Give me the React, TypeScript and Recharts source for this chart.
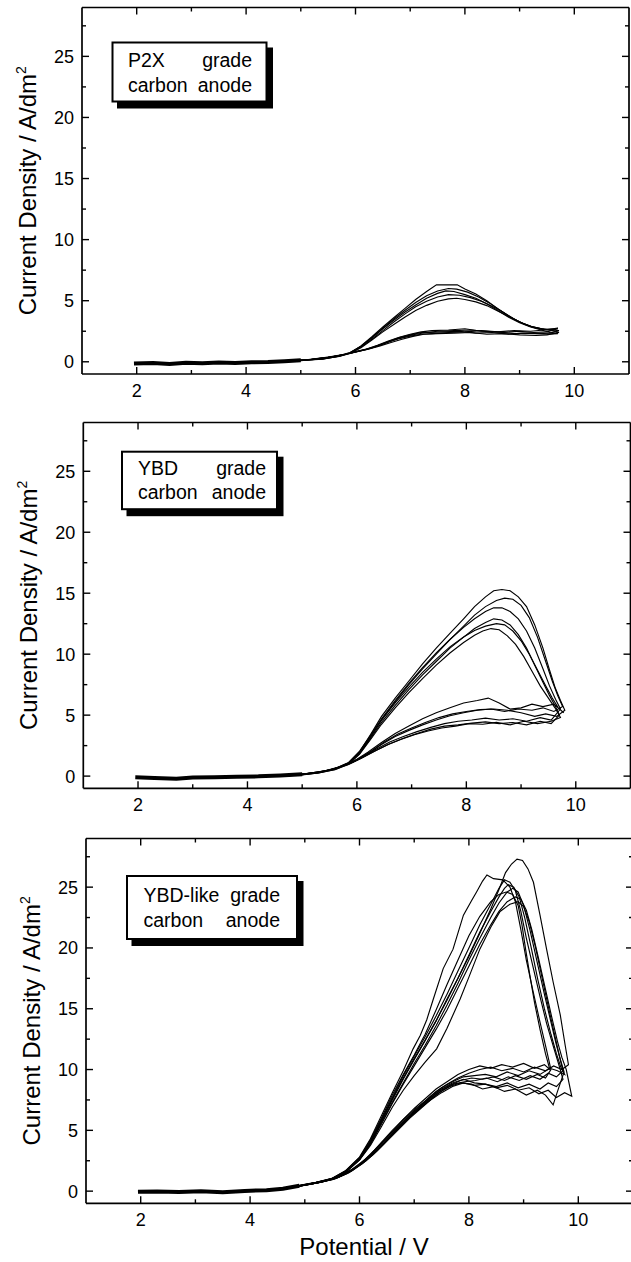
import { Line, LineChart, XAxis, YAxis } from "recharts";

type Pt = [number, number];

const FONT = '"Liberation Sans", Arial, Helvetica, sans-serif';
const INK = "#000";

const xTicks = [2, 3, 4, 5, 6, 7, 8, 9, 10];
const yTicks = [0, 2.5, 5, 7.5, 10, 12.5, 15, 17.5, 20, 22.5, 25, 27.5];

// P2X grade carbon anode
const p2xBaseline: Pt[] = [[1.95, -0.15], [2.3, -0.1], [2.6, -0.18], [2.9, -0.08], [3.2, -0.12], [3.5, -0.05], [3.8, -0.1], [4.1, -0.04], [4.4, -0.02], [4.7, 0.05], [5.0, 0.12]];
const p2xScan1: Pt[] = [[4.6, 0.02], [5.0, 0.12], [5.4, 0.22], [5.7, 0.45], [5.9, 0.72], [6.1, 1.3], [6.3, 2.05], [6.5, 2.85], [6.7, 3.6], [6.9, 4.35], [7.1, 5.1], [7.3, 5.75], [7.48, 6.3], [7.7, 6.3], [7.86, 6.3], [8.0, 5.95], [8.2, 5.55], [8.4, 5.0], [8.6, 4.35], [8.8, 3.75], [9.0, 3.25], [9.2, 2.9], [9.4, 2.7], [9.6, 2.6], [9.72, 2.55], [9.55, 2.35], [9.3, 2.3], [9.05, 2.35], [8.8, 2.25], [8.5, 2.4], [8.2, 2.35], [7.9, 2.5], [7.6, 2.45], [7.35, 2.4], [7.2, 2.4], [7.0, 2.2], [6.8, 1.98], [6.6, 1.65], [6.4, 1.3], [6.2, 1.0], [6.0, 0.8], [5.8, 0.6], [5.5, 0.35], [5.1, 0.15], [4.6, 0.0]];
const p2xScan2: Pt[] = [[4.6, 0.05], [5.0, 0.1], [5.4, 0.25], [5.7, 0.47], [5.9, 0.74], [6.1, 1.28], [6.3, 2.0], [6.5, 2.75], [6.7, 3.5], [6.9, 4.2], [7.1, 4.85], [7.3, 5.4], [7.5, 5.8], [7.7, 6.0], [7.85, 5.95], [8.05, 5.7], [8.25, 5.3], [8.45, 4.8], [8.65, 4.2], [8.85, 3.6], [9.05, 3.15], [9.25, 2.85], [9.45, 2.65], [9.7, 2.7], [9.5, 2.45], [9.25, 2.4], [9.0, 2.5], [8.7, 2.4], [8.4, 2.5], [8.1, 2.6], [7.8, 2.55], [7.5, 2.5], [7.3, 2.4], [7.1, 2.25], [6.9, 2.05], [6.7, 1.78], [6.5, 1.48], [6.3, 1.15], [6.1, 0.92], [5.9, 0.7], [5.6, 0.42], [5.2, 0.2], [4.6, 0.04]];
const p2xScan3: Pt[] = [[4.6, 0.0], [5.0, 0.14], [5.4, 0.28], [5.7, 0.5], [5.9, 0.75], [6.1, 1.25], [6.3, 1.95], [6.5, 2.7], [6.7, 3.4], [6.9, 4.05], [7.1, 4.65], [7.3, 5.2], [7.5, 5.6], [7.65, 5.8], [7.8, 5.75], [8.0, 5.5], [8.2, 5.2], [8.4, 4.75], [8.6, 4.2], [8.8, 3.65], [9.0, 3.2], [9.2, 2.85], [9.4, 2.6], [9.55, 2.4], [9.7, 2.3], [9.5, 2.25], [9.2, 2.35], [8.9, 2.3], [8.6, 2.45], [8.3, 2.5], [8.0, 2.7], [7.7, 2.6], [7.4, 2.55], [7.2, 2.45], [7.0, 2.25], [6.8, 2.0], [6.6, 1.7], [6.4, 1.35], [6.2, 1.05], [6.0, 0.84], [5.8, 0.62], [5.5, 0.38], [5.1, 0.16], [4.6, 0.02]];
const p2xScan4: Pt[] = [[4.6, 0.03], [5.0, 0.13], [5.4, 0.24], [5.7, 0.46], [5.9, 0.7], [6.1, 1.2], [6.3, 1.85], [6.5, 2.55], [6.7, 3.25], [6.9, 3.9], [7.1, 4.5], [7.3, 4.95], [7.5, 5.3], [7.7, 5.5], [7.9, 5.45], [8.1, 5.25], [8.3, 4.95], [8.5, 4.55], [8.7, 4.05], [8.9, 3.5], [9.1, 3.05], [9.3, 2.75], [9.5, 2.6], [9.7, 2.75], [9.45, 2.6], [9.2, 2.5], [8.9, 2.55], [8.6, 2.45], [8.3, 2.55], [8.0, 2.45], [7.7, 2.4], [7.4, 2.3], [7.2, 2.25], [7.0, 2.1], [6.8, 1.9], [6.6, 1.6], [6.4, 1.28], [6.2, 1.02], [6.0, 0.8], [5.8, 0.6], [5.5, 0.36], [5.1, 0.14], [4.6, 0.01]];
const p2xScan5: Pt[] = [[4.6, 0.01], [5.0, 0.11], [5.4, 0.23], [5.7, 0.44], [5.9, 0.68], [6.1, 1.15], [6.3, 1.78], [6.5, 2.45], [6.7, 3.05], [6.9, 3.65], [7.1, 4.2], [7.3, 4.62], [7.5, 4.95], [7.7, 5.15], [7.85, 5.2], [8.0, 5.1], [8.2, 4.9], [8.4, 4.6], [8.6, 4.15], [8.8, 3.7], [9.0, 3.25], [9.2, 2.9], [9.4, 2.7], [9.6, 2.55], [9.72, 2.4], [9.5, 2.2], [9.3, 2.15], [9.0, 2.2], [8.7, 2.3], [8.4, 2.25], [8.1, 2.4], [7.8, 2.35], [7.5, 2.3], [7.25, 2.25], [7.05, 2.08], [6.85, 1.85], [6.65, 1.58], [6.45, 1.3], [6.25, 1.06], [6.05, 0.85], [5.85, 0.63], [5.55, 0.38], [5.15, 0.16], [4.6, 0.03]];

// YBD grade carbon anode
const ybdBaseline: Pt[] = [[1.95, -0.1], [2.3, -0.15], [2.7, -0.22], [3.0, -0.12], [3.4, -0.1], [3.8, -0.05], [4.2, -0.02], [4.6, 0.05], [5.0, 0.15]];
const ybdScan1: Pt[] = [[4.6, 0.05], [5.0, 0.15], [5.3, 0.3], [5.6, 0.6], [5.85, 1.1], [6.05, 2.0], [6.25, 3.4], [6.45, 4.9], [6.7, 6.4], [6.95, 7.8], [7.2, 9.2], [7.45, 10.5], [7.7, 11.7], [7.95, 12.9], [8.15, 13.9], [8.35, 14.7], [8.5, 15.2], [8.65, 15.3], [8.8, 15.2], [8.95, 14.7], [9.1, 13.9], [9.25, 12.4], [9.4, 10.5], [9.52, 8.7], [9.62, 7.3], [9.72, 6.2], [9.8, 5.4], [9.65, 4.9], [9.45, 5.1], [9.25, 4.9], [9.0, 5.2], [8.75, 5.4], [8.5, 5.5], [8.25, 5.45], [8.0, 5.3], [7.75, 5.1], [7.5, 4.8], [7.25, 4.4], [7.0, 3.95], [6.75, 3.45], [6.5, 2.8], [6.25, 2.0], [6.0, 1.35], [5.75, 0.85], [5.5, 0.5], [5.1, 0.2], [4.6, 0.05]];
const ybdScan2: Pt[] = [[4.6, 0.02], [5.0, 0.12], [5.3, 0.28], [5.6, 0.58], [5.85, 1.05], [6.05, 1.9], [6.25, 3.2], [6.45, 4.6], [6.7, 6.1], [6.95, 7.5], [7.2, 8.8], [7.45, 10.0], [7.7, 11.2], [7.95, 12.3], [8.15, 13.2], [8.35, 13.9], [8.55, 14.4], [8.7, 14.6], [8.85, 14.5], [9.0, 14.0], [9.15, 13.0], [9.3, 11.4], [9.45, 9.4], [9.57, 7.8], [9.67, 6.6], [9.76, 5.7], [9.6, 5.3], [9.4, 5.6], [9.2, 5.4], [8.95, 5.5], [8.7, 5.3], [8.45, 5.5], [8.2, 5.4], [7.95, 5.2], [7.7, 4.95], [7.45, 4.6], [7.2, 4.2], [6.95, 3.75], [6.7, 3.25], [6.45, 2.6], [6.2, 1.85], [5.95, 1.2], [5.7, 0.75], [5.45, 0.45], [5.0, 0.15], [4.6, 0.02]];
const ybdScan3: Pt[] = [[4.6, 0.04], [5.0, 0.14], [5.3, 0.32], [5.6, 0.62], [5.85, 1.12], [6.05, 2.05], [6.25, 3.35], [6.45, 4.7], [6.7, 6.2], [6.95, 7.6], [7.2, 8.9], [7.45, 10.1], [7.7, 11.2], [7.95, 12.2], [8.15, 12.9], [8.35, 13.5], [8.5, 13.8], [8.65, 13.8], [8.8, 13.5], [8.95, 12.9], [9.1, 11.9], [9.25, 10.5], [9.4, 8.8], [9.52, 7.4], [9.63, 6.3], [9.72, 5.5], [9.55, 4.6], [9.35, 4.8], [9.1, 4.5], [8.85, 4.7], [8.6, 4.6], [8.35, 4.75], [8.1, 4.6], [7.85, 4.5], [7.6, 4.3], [7.35, 4.0], [7.1, 3.65], [6.85, 3.25], [6.6, 2.8], [6.35, 2.2], [6.1, 1.55], [5.85, 1.0], [5.6, 0.62], [5.3, 0.32], [4.9, 0.12], [4.6, 0.04]];
const ybdScan4: Pt[] = [[4.6, 0.0], [5.0, 0.1], [5.3, 0.27], [5.6, 0.55], [5.85, 1.0], [6.05, 1.85], [6.25, 3.1], [6.45, 4.4], [6.7, 5.8], [6.95, 7.1], [7.2, 8.3], [7.45, 9.4], [7.7, 10.5], [7.95, 11.4], [8.15, 12.1], [8.35, 12.6], [8.5, 12.9], [8.65, 12.8], [8.8, 12.4], [8.95, 11.6], [9.1, 10.5], [9.25, 9.1], [9.4, 7.7], [9.52, 6.6], [9.62, 5.8], [9.7, 5.0], [9.55, 4.3], [9.35, 4.5], [9.1, 4.2], [8.85, 4.4], [8.6, 4.3], [8.35, 4.45], [8.1, 4.35], [7.85, 4.2], [7.6, 4.1], [7.35, 3.85], [7.1, 3.5], [6.85, 3.1], [6.6, 2.65], [6.35, 2.1], [6.1, 1.5], [5.85, 0.95], [5.6, 0.58], [5.3, 0.3], [4.9, 0.1], [4.6, 0.0]];
const ybdScan5: Pt[] = [[4.6, 0.03], [5.0, 0.13], [5.3, 0.3], [5.6, 0.6], [5.85, 1.08], [6.05, 1.95], [6.25, 3.25], [6.45, 4.6], [6.7, 6.0], [6.95, 7.3], [7.2, 8.5], [7.45, 9.6], [7.7, 10.6], [7.95, 11.4], [8.15, 11.95], [8.35, 12.3], [8.55, 12.5], [8.7, 12.4], [8.85, 11.9], [9.0, 11.1], [9.15, 10.0], [9.3, 8.7], [9.45, 7.4], [9.57, 6.4], [9.68, 5.6], [9.78, 5.2], [9.6, 5.9], [9.4, 5.7], [9.2, 5.9], [9.0, 5.6], [8.8, 5.5], [8.6, 6.0], [8.4, 6.4], [8.2, 6.2], [7.95, 6.0], [7.7, 5.6], [7.45, 5.2], [7.2, 4.7], [6.95, 4.1], [6.7, 3.5], [6.45, 2.75], [6.2, 1.95], [5.95, 1.25], [5.7, 0.78], [5.4, 0.42], [5.0, 0.15], [4.6, 0.03]];
const ybdScan6: Pt[] = [[4.6, 0.01], [5.0, 0.11], [5.3, 0.26], [5.6, 0.52], [5.85, 0.98], [6.05, 1.8], [6.25, 3.0], [6.45, 4.25], [6.7, 5.6], [6.95, 6.85], [7.2, 8.0], [7.45, 9.1], [7.7, 10.1], [7.95, 10.95], [8.15, 11.55], [8.3, 11.9], [8.45, 12.1], [8.6, 12.0], [8.75, 11.5], [8.9, 10.8], [9.05, 9.8], [9.2, 8.6], [9.35, 7.4], [9.5, 6.4], [9.62, 5.6], [9.72, 4.8], [9.55, 4.5], [9.3, 4.3], [9.05, 4.5], [8.8, 4.2], [8.55, 4.4], [8.3, 4.25], [8.05, 4.3], [7.8, 4.1], [7.55, 3.95], [7.3, 3.7], [7.05, 3.4], [6.8, 3.0], [6.55, 2.55], [6.3, 2.0], [6.05, 1.4], [5.8, 0.9], [5.55, 0.55], [5.25, 0.28], [4.85, 0.1], [4.6, 0.01]];

// YBD-like grade carbon anode
const ybdLikeBaseline: Pt[] = [[1.95, -0.05], [2.3, -0.02], [2.7, -0.08], [3.1, 0.0], [3.5, -0.1], [3.9, 0.02], [4.3, 0.08], [4.6, 0.2], [4.9, 0.45]];
const ybdLikeScan1: Pt[] = [[4.6, 0.2], [4.9, 0.45], [5.2, 0.7], [5.5, 1.0], [5.75, 1.6], [6.0, 2.6], [6.2, 4.0], [6.4, 5.8], [6.6, 7.6], [6.8, 9.3], [7.0, 10.9], [7.2, 12.4], [7.4, 14.0], [7.6, 15.8], [7.8, 17.5], [8.0, 19.3], [8.2, 21.2], [8.4, 23.2], [8.55, 24.8], [8.67, 26.2], [8.78, 26.9], [8.88, 27.3], [8.98, 27.2], [9.08, 26.5], [9.18, 25.4], [9.3, 22.7], [9.42, 19.9], [9.54, 17.2], [9.67, 14.5], [9.76, 12.0], [9.82, 10.4], [9.7, 10.0], [9.55, 10.3], [9.4, 9.9], [9.2, 10.2], [9.0, 9.8], [8.8, 10.1], [8.6, 9.9], [8.4, 10.2], [8.2, 10.0], [8.0, 9.7], [7.8, 9.3], [7.6, 8.8], [7.4, 8.2], [7.2, 7.4], [7.0, 6.7], [6.8, 5.9], [6.6, 4.9], [6.4, 3.9], [6.2, 2.95], [6.0, 2.15], [5.75, 1.42], [5.5, 0.95], [5.2, 0.65], [4.9, 0.4], [4.6, 0.18]];
const ybdLikeScan2: Pt[] = [[4.6, 0.22], [4.9, 0.48], [5.2, 0.72], [5.5, 1.05], [5.75, 1.7], [6.0, 2.8], [6.2, 4.3], [6.4, 6.2], [6.6, 8.1], [6.8, 9.9], [6.98, 11.7], [7.11, 12.8], [7.23, 14.1], [7.35, 15.8], [7.53, 18.3], [7.71, 19.9], [7.9, 22.7], [8.05, 23.9], [8.14, 24.6], [8.25, 25.5], [8.33, 26.0], [8.45, 25.7], [8.62, 25.6], [8.75, 25.0], [8.85, 23.8], [8.95, 21.5], [9.05, 19.0], [9.17, 16.5], [9.3, 13.9], [9.42, 11.6], [9.5, 10.0], [9.4, 9.3], [9.25, 9.6], [9.05, 9.2], [8.85, 9.5], [8.65, 9.1], [8.45, 9.4], [8.25, 9.2], [8.05, 9.3], [7.85, 9.1], [7.65, 8.7], [7.45, 8.2], [7.25, 7.5], [7.05, 6.7], [6.85, 5.9], [6.65, 5.0], [6.45, 4.0], [6.25, 3.1], [6.05, 2.3], [5.8, 1.55], [5.55, 1.05], [5.25, 0.7], [4.95, 0.45], [4.6, 0.2]];
const ybdLikeScan3: Pt[] = [[4.6, 0.18], [4.9, 0.42], [5.2, 0.68], [5.5, 1.02], [5.75, 1.65], [6.0, 2.7], [6.2, 4.1], [6.4, 5.9], [6.6, 7.7], [6.8, 9.5], [7.0, 11.1], [7.2, 12.7], [7.4, 14.4], [7.6, 16.2], [7.8, 18.1], [8.0, 20.0], [8.2, 21.9], [8.4, 23.6], [8.55, 24.9], [8.65, 25.6], [8.75, 25.4], [8.85, 24.7], [8.95, 23.0], [9.05, 20.8], [9.18, 18.3], [9.3, 16.0], [9.42, 13.8], [9.55, 11.8], [9.65, 10.3], [9.72, 9.2], [9.6, 8.6], [9.45, 8.9], [9.3, 8.4], [9.1, 8.8], [8.9, 8.5], [8.7, 8.9], [8.5, 8.6], [8.3, 8.8], [8.1, 8.7], [7.9, 8.9], [7.7, 8.6], [7.5, 8.1], [7.3, 7.5], [7.1, 6.8], [6.9, 6.0], [6.7, 5.1], [6.5, 4.2], [6.3, 3.3], [6.1, 2.5], [5.85, 1.7], [5.6, 1.15], [5.3, 0.75], [5.0, 0.5], [4.6, 0.19]];
const ybdLikeScan4: Pt[] = [[4.6, 0.21], [4.9, 0.44], [5.2, 0.7], [5.5, 1.03], [5.75, 1.62], [6.0, 2.65], [6.2, 4.0], [6.4, 5.7], [6.6, 7.5], [6.8, 9.2], [7.0, 10.8], [7.2, 12.4], [7.4, 14.0], [7.6, 15.7], [7.8, 17.5], [8.0, 19.4], [8.2, 21.3], [8.4, 23.0], [8.55, 24.2], [8.65, 24.9], [8.72, 25.2], [8.82, 25.0], [8.92, 24.2], [9.02, 22.5], [9.14, 20.0], [9.26, 17.4], [9.38, 15.0], [9.5, 12.9], [9.6, 11.3], [9.68, 10.2], [9.75, 9.6], [9.62, 9.9], [9.48, 10.1], [9.3, 9.6], [9.1, 9.9], [8.9, 9.5], [8.7, 9.8], [8.5, 9.4], [8.3, 9.6], [8.1, 9.5], [7.9, 9.4], [7.7, 9.0], [7.5, 8.5], [7.3, 7.8], [7.1, 7.0], [6.9, 6.2], [6.7, 5.3], [6.5, 4.4], [6.3, 3.5], [6.1, 2.6], [5.85, 1.75], [5.6, 1.2], [5.3, 0.78], [5.0, 0.52], [4.6, 0.22]];
const ybdLikeScan5: Pt[] = [[4.6, 0.19], [4.9, 0.43], [5.2, 0.69], [5.5, 1.0], [5.75, 1.6], [6.0, 2.6], [6.2, 3.9], [6.4, 5.6], [6.6, 7.3], [6.8, 8.9], [7.0, 10.5], [7.2, 12.0], [7.4, 13.6], [7.6, 15.3], [7.8, 17.1], [8.0, 19.0], [8.2, 20.8], [8.4, 22.5], [8.55, 23.7], [8.7, 24.6], [8.8, 24.9], [8.9, 24.6], [9.0, 23.5], [9.12, 21.4], [9.25, 18.8], [9.38, 16.2], [9.5, 13.9], [9.6, 12.0], [9.68, 10.7], [9.74, 9.8], [9.62, 8.2], [9.54, 7.1], [9.4, 7.9], [9.25, 8.3], [9.05, 7.9], [8.85, 8.4], [8.65, 8.2], [8.45, 8.6], [8.25, 8.4], [8.05, 8.8], [7.85, 8.9], [7.65, 8.6], [7.45, 8.1], [7.25, 7.4], [7.05, 6.6], [6.85, 5.8], [6.65, 4.9], [6.45, 3.9], [6.25, 3.0], [6.05, 2.25], [5.8, 1.5], [5.55, 1.0], [5.25, 0.7], [4.95, 0.46], [4.6, 0.2]];
const ybdLikeScan6: Pt[] = [[4.6, 0.2], [4.9, 0.46], [5.2, 0.71], [5.5, 1.04], [5.75, 1.68], [6.0, 2.75], [6.2, 4.2], [6.4, 6.0], [6.6, 7.9], [6.8, 9.6], [7.0, 11.2], [7.2, 12.9], [7.4, 14.9], [7.6, 17.0], [7.8, 19.0], [8.0, 21.0], [8.2, 22.6], [8.4, 23.8], [8.55, 24.4], [8.68, 24.6], [8.8, 24.4], [8.9, 23.5], [8.97, 21.9], [9.04, 19.8], [9.12, 17.6], [9.2, 15.5], [9.3, 13.3], [9.4, 11.3], [9.48, 10.0], [9.38, 10.4], [9.2, 10.1], [9.0, 10.5], [8.8, 10.2], [8.6, 10.4], [8.4, 10.1], [8.2, 10.3], [8.0, 10.0], [7.8, 9.6], [7.6, 9.0], [7.4, 8.4], [7.2, 7.6], [7.0, 6.8], [6.8, 5.9], [6.6, 5.0], [6.4, 4.0], [6.2, 3.0], [6.0, 2.2], [5.75, 1.45], [5.5, 0.98], [5.2, 0.66], [4.9, 0.42], [4.6, 0.19]];
const ybdLikeScan7: Pt[] = [[4.6, 0.22], [4.9, 0.44], [5.2, 0.7], [5.5, 1.01], [5.75, 1.6], [6.0, 2.6], [6.2, 3.85], [6.4, 5.5], [6.6, 7.2], [6.8, 8.8], [7.0, 10.3], [7.2, 11.8], [7.4, 13.3], [7.6, 14.9], [7.8, 16.7], [8.0, 18.5], [8.2, 20.3], [8.4, 21.9], [8.55, 23.0], [8.7, 23.8], [8.85, 24.2], [8.95, 24.0], [9.05, 23.1], [9.15, 21.5], [9.27, 19.2], [9.4, 16.6], [9.52, 14.2], [9.62, 12.3], [9.7, 11.0], [9.78, 10.0], [9.88, 7.8], [9.75, 8.1], [9.6, 7.7], [9.45, 8.3], [9.28, 8.0], [9.1, 8.5], [8.9, 8.3], [8.7, 8.7], [8.5, 8.5], [8.3, 8.8], [8.1, 8.9], [7.9, 9.2], [7.7, 8.9], [7.5, 8.4], [7.3, 7.7], [7.1, 6.9], [6.9, 6.1], [6.7, 5.2], [6.5, 4.2], [6.3, 3.3], [6.1, 2.5], [5.85, 1.65], [5.6, 1.1], [5.3, 0.74], [5.0, 0.5], [4.6, 0.21]];
const ybdLikeScan8: Pt[] = [[4.6, 0.19], [4.9, 0.41], [5.2, 0.67], [5.5, 0.99], [5.75, 1.55], [6.0, 2.55], [6.2, 3.75], [6.4, 5.3], [6.6, 6.9], [6.8, 8.3], [7.0, 9.5], [7.2, 10.6], [7.41, 11.7], [7.6, 13.4], [7.84, 15.8], [8.0, 17.6], [8.2, 19.9], [8.4, 21.7], [8.57, 23.0], [8.75, 23.6], [8.9, 23.8], [9.0, 23.4], [9.1, 22.2], [9.22, 20.0], [9.35, 17.3], [9.47, 14.8], [9.58, 12.6], [9.66, 11.0], [9.72, 9.9], [9.6, 9.4], [9.45, 9.7], [9.3, 9.2], [9.12, 9.5], [8.92, 9.1], [8.72, 9.4], [8.52, 9.0], [8.32, 9.3], [8.12, 9.1], [7.92, 9.0], [7.72, 8.8], [7.52, 8.3], [7.32, 7.6], [7.12, 6.8], [6.92, 6.0], [6.72, 5.1], [6.52, 4.2], [6.32, 3.3], [6.12, 2.5], [5.87, 1.7], [5.62, 1.15], [5.32, 0.76], [5.02, 0.5], [4.6, 0.2]];

const toRows = (pts: Pt[]) => pts.map(([v, j]) => ({ v, j }));

const MAJOR = 7;
const MINOR = 4;
const TICK_STROKE = 1.4;
const TICK_FONT = 18;

const BottomTick = ({ x, y, payload }: any) => {
  const major = payload.value % 2 === 0;
  return (
    <g>
      <line x1={x} y1={y} x2={x} y2={y - (major ? MAJOR : MINOR)} stroke={INK} strokeWidth={TICK_STROKE} />
      {major && (
        <text x={x} y={y + 23} textAnchor="middle" fontSize={TICK_FONT} fontFamily={FONT} fill={INK}>
          {payload.value}
        </text>
      )}
    </g>
  );
};

const TopTick = ({ x, y, payload }: any) => {
  const major = payload.value % 2 === 0;
  return <line x1={x} y1={y} x2={x} y2={y + (major ? MAJOR : MINOR)} stroke={INK} strokeWidth={TICK_STROKE} />;
};

const LeftTick = ({ x, y, payload }: any) => {
  const major = payload.value % 5 === 0;
  return (
    <g>
      <line x1={x} y1={y} x2={x + (major ? MAJOR : MINOR)} y2={y} stroke={INK} strokeWidth={TICK_STROKE} />
      {major && (
        <text x={x - 8} y={y + 6.5} textAnchor="end" fontSize={TICK_FONT} fontFamily={FONT} fill={INK}>
          {payload.value}
        </text>
      )}
    </g>
  );
};

const RightTick = ({ x, y, payload }: any) => {
  const major = payload.value % 5 === 0;
  return <line x1={x} y1={y} x2={x - (major ? MAJOR : MINOR)} y2={y} stroke={INK} strokeWidth={TICK_STROKE} />;
};

const axisLine = { stroke: INK, strokeWidth: 1.7 };

type PanelProps = {
  top: number;
  height: number;
  // plot-area edges inside the panel
  plot: { top: number; right: number; bottom: number; left: number };
  baseline: Pt[];
  scans: Pt[][];
  legend: [string, string][];
  box: { x: number; y: number; w: number; h: number; padL: number; padR: number; base1: number; base2: number };
  yLabelX: number;
  xTitle?: boolean;
};

const CHART_W = 640;

const Panel = ({ top, height, plot, baseline, scans, legend, box, yLabelX, xTitle }: PanelProps) => {
  // each axis takes 1px of room, so the margins leave that out
  const margin = { top: plot.top - 1, right: CHART_W - plot.right - 1, bottom: height - plot.bottom - 1, left: plot.left - 1 };
  const plotMid = (plot.top + plot.bottom) / 2;
  return (
    <div style={{ position: "absolute", left: 0, top, width: CHART_W, height }}>
      <LineChart width={CHART_W} height={height} margin={margin}>
        <XAxis xAxisId="b" dataKey="v" type="number" domain={[1, 11]} allowDataOverflow ticks={xTicks} interval={0}
          height={1} tickSize={0} tickMargin={0} tickLine={false} axisLine={axisLine} tick={(p: any) => <BottomTick {...p} />} />
        <XAxis xAxisId="t" orientation="top" dataKey="v" type="number" domain={[1, 11]} allowDataOverflow ticks={xTicks} interval={0}
          height={1} tickSize={0} tickMargin={0} tickLine={false} axisLine={axisLine} tick={(p: any) => <TopTick {...p} />} />
        <YAxis yAxisId="l" type="number" domain={[-1, 29]} allowDataOverflow ticks={yTicks} interval={0}
          width={1} tickSize={0} tickMargin={0} tickLine={false} axisLine={axisLine} tick={(p: any) => <LeftTick {...p} />} />
        <YAxis yAxisId="r" orientation="right" type="number" domain={[-1, 29]} allowDataOverflow ticks={yTicks} interval={0}
          width={1} tickSize={0} tickMargin={0} tickLine={false} axisLine={axisLine} tick={(p: any) => <RightTick {...p} />} />
        <Line xAxisId="b" yAxisId="l" data={toRows(baseline)} dataKey="j" type="linear" stroke={INK} strokeWidth={4}
          dot={false} activeDot={false} isAnimationActive={false} />
        {scans.map((s, i) => (
          <Line key={i} xAxisId="b" yAxisId="l" data={toRows(s)} dataKey="j" type="linear" stroke={INK} strokeWidth={1.15}
            dot={false} activeDot={false} isAnimationActive={false} />
        ))}
      </LineChart>
      <svg width={CHART_W} height={height} style={{ position: "absolute", left: 0, top: 0, pointerEvents: "none" }}>
        <text transform={`rotate(-90 ${yLabelX} ${plotMid})`} x={yLabelX} y={plotMid} textAnchor="middle"
          fontSize={24} fontFamily={FONT} fill={INK}>
          <tspan>Current Density / A/dm</tspan>
          <tspan dy={-10} fontSize={14}>2</tspan>
        </text>
        {xTitle && (
          <text x={364} y={height - 7} textAnchor="middle" fontSize={24} fontFamily={FONT} fill={INK}>
            Potential / V
          </text>
        )}
        <rect x={box.x + 5.5} y={box.y + 6} width={box.w} height={box.h} fill={INK} />
        <rect x={box.x + 1} y={box.y + 1} width={box.w - 2} height={box.h - 2} fill="#fff" stroke={INK} strokeWidth={2} />
        {legend.map(([a, b], i) => (
          <g key={i} fontSize={19.5} fontFamily={FONT} fill={INK}>
            <text x={box.x + box.padL} y={box.y + (i === 0 ? box.base1 : box.base2)}>{a}</text>
            <text x={box.x + box.w - box.padR} y={box.y + (i === 0 ? box.base1 : box.base2)} textAnchor="end">{b}</text>
          </g>
        ))}
      </svg>
    </div>
  );
};

export default function App() {
  return (
    <div style={{ position: "absolute", left: 0, top: 0, width: 631, height: 1262, overflow: "hidden", background: "#fff", fontFamily: FONT }}>
      <Panel
        top={0}
        height={415}
        plot={{ top: 7.5, right: 629, bottom: 374, left: 82 }}
        baseline={p2xBaseline}
        scans={[p2xScan1, p2xScan2, p2xScan3, p2xScan4, p2xScan5]}
        legend={[["P2X", "grade"], ["carbon", "anode"]]}
        box={{ x: 111.5, y: 41.5, w: 156, h: 61, padL: 16.5, padR: 15.5, base1: 25, base2: 50 }}
        yLabelX={36}
      />
      <Panel
        top={415}
        height={415}
        plot={{ top: 7.5, right: 630.5, bottom: 373.3, left: 83.3 }}
        baseline={ybdBaseline}
        scans={[ybdScan1, ybdScan2, ybdScan3, ybdScan4, ybdScan5, ybdScan6]}
        legend={[["YBD", "grade"], ["carbon", "anode"]]}
        box={{ x: 121, y: 35.7, w: 157, h: 59.5, padL: 17, padR: 12, base1: 24.5, base2: 48.5 }}
        yLabelX={37}
      />
      <Panel
        top={830}
        height={432}
        plot={{ top: 8.5, right: 633, bottom: 373.3, left: 86 }}
        baseline={ybdLikeBaseline}
        scans={[ybdLikeScan1, ybdLikeScan2, ybdLikeScan3, ybdLikeScan4, ybdLikeScan5, ybdLikeScan6, ybdLikeScan7, ybdLikeScan8]}
        legend={[["YBD-like", "grade"], ["carbon", "anode"]]}
        box={{ x: 126, y: 45, w: 172, h: 65, padL: 17.5, padR: 18, base1: 26.5, base2: 51.5 }}
        yLabelX={40}
        xTitle
      />
    </div>
  );
}
